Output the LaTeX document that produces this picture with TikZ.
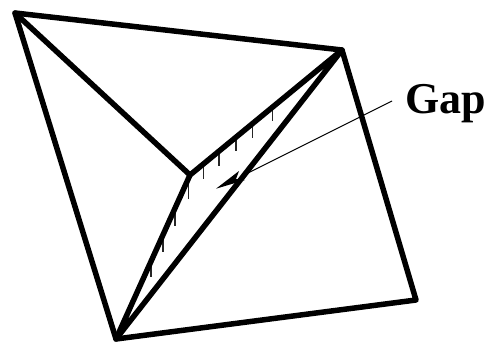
\documentclass[tikz,border=0pt]{standalone}
\usepackage{fontspec}
\setmainfont{Liberation Serif}
\tikzset{
  heavy/.style={draw=black,line width=5.5pt,line cap=round,line join=round},
  tick/.style={draw=black!85,line width=1.1pt},
  leader/.style={draw=black,line width=1.1pt},
  gaplabel/.style={font=\fontsize{44}{44}\selectfont\bfseries,anchor=base west,inner sep=0pt,outer sep=0pt,text=black}
}
\begin{document}
\begin{tikzpicture}[x=1pt,y=-1pt]
\useasboundingbox (0,0) rectangle (487,345);
\fill[white] (0,0) rectangle (487,345);
\coordinate (A) at (15,13);
\coordinate (B) at (342,50);
\coordinate (C) at (190,175);
\coordinate (D) at (116,339);
\coordinate (E) at (416,300);
\coordinate (L) at (392,101);
\coordinate (T) at (216,188.7);
\coordinate (H) at (243,175.5);
\node[gaplabel] (gap) at (405,113) {Gap};
\foreach \x/\a/\b in {272.7/107/120.7,252.7/123.4/137.7,236/137/150.7,219/151/166,203.3/164/179,188.3/179/198.7,175/208/226,163/235/252,151/261/277}
  \draw[tick] (\x,\a) -- (\x,\b);
\draw[heavy] (A) -- (B) -- (E) -- (D) -- cycle;
\draw[heavy] (A) -- (C) -- (B) -- (D) -- (C);
\draw[leader] (L) -- (H);
\fill[black] (T) -- (239,171) -- (236,179) -- (245,180) -- cycle;
\end{tikzpicture}
\end{document}
